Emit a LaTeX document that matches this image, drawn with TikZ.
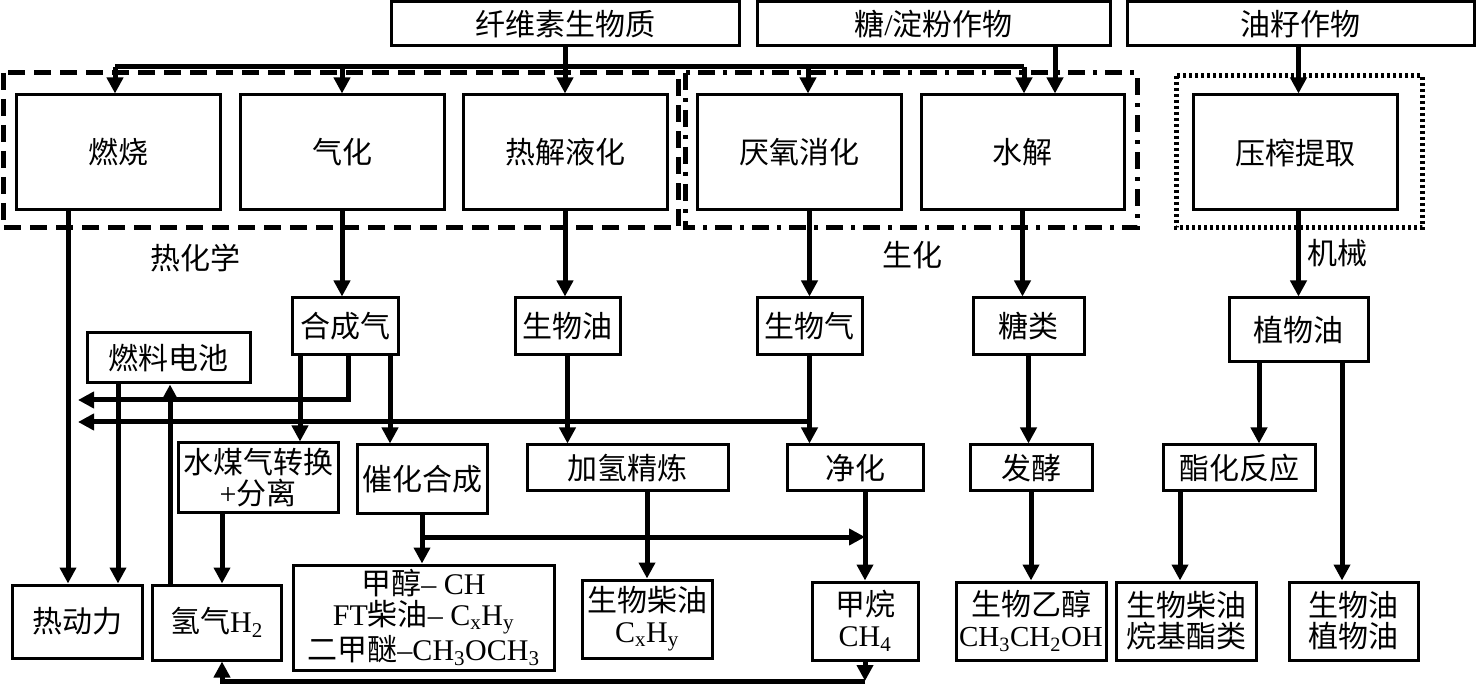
\documentclass[tikz,border=0pt]{standalone}
\usepackage{fontspec}
\setmainfont{Liberation Serif}
\newfontfamily\cjk{Noto Sans CJK SC}
\usetikzlibrary{arrows.meta}
\newcommand\lat[1]{{\rmfamily #1}}
\newcommand\mkbox[6]{\node[bx, minimum width={(#4-#2)*1pt}, minimum height={(#5-#3)*1pt}] (#1) at ({(#2+#4)/2},{(#3+#5)/2}) {#6};}
\begin{document}
\begin{tikzpicture}[x=1pt,y=-1pt,
  bx/.style={draw, line width=3pt, inner sep=0pt, align=center, font=\cjk\fontsize{30pt}{31pt}\selectfont},
  ln/.style={line width=5pt},
  arr/.style={line width=5pt, -{Triangle[length=16pt,width=16pt]}},
  lbl/.style={font=\cjk\fontsize{30pt}{32pt}\selectfont, inner sep=0pt},
  grp/.style={line width=5pt},
]
\fill[white] (0,0) rectangle (1476,684);
\useasboundingbox (0,0) rectangle (1476,684);

% sources
\mkbox{fiber}{391}{1.5}{739}{46}{纤维素生物质}
\mkbox{sugar}{757}{1.5}{1110}{46}{糖\lat{/}淀粉作物}
\mkbox{oilc}{1127}{1.5}{1474}{46}{油籽作物}

% processes
\mkbox{rs}{16}{95}{220}{210}{燃烧}
\mkbox{qh}{240}{95}{444}{210}{气化}
\mkbox{rj}{463}{95}{667}{210}{热解液化}
\mkbox{yy}{697}{95}{901}{210}{厌氧消化}
\mkbox{sj}{921}{95}{1124}{210}{水解}
\mkbox{yz}{1193}{95}{1397}{210}{压榨提取}

% group frames
\draw[grp, dash pattern=on 17pt off 9pt] (3,73) rectangle (678,228);
\draw[grp, dash pattern=on 17pt off 8pt on 4pt off 8pt] (685,73) rectangle (1137,228);
\draw[grp, dash pattern=on 3pt off 3pt] (1176,76) rectangle (1422,228);

\node[lbl] (lthermo) at (195,258) {热化学};
\node[lbl] (lbio) at (912,255) {生化};
\node[lbl] (lmech) at (1337,253) {机械};

% intermediates
\mkbox{syn}{292}{298}{398}{355}{合成气}
\mkbox{boil}{515}{298}{620}{355}{生物油}
\mkbox{bgas}{757}{298}{862}{355}{生物气}
\mkbox{tang}{973}{298}{1084}{355}{糖类}
\mkbox{veg}{1229}{298}{1368}{362}{植物油}
\mkbox{fc}{87}{333}{250}{383}{燃料电池}

% conversion steps
\mkbox{wgs}{178}{443}{338}{512}{水煤气转换\\\lat{+}分离}
\mkbox{cat}{357}{445}{487}{513}{催化合成}
\mkbox{hyd}{527}{445}{728}{491}{加氢精炼}
\mkbox{pur}{787}{445}{923}{491}{净化}
\mkbox{fer}{970}{445}{1092}{491}{发酵}
\mkbox{est}{1163}{445}{1315}{491}{酯化反应}

% products
\mkbox{heat}{12}{585}{142}{658}{热动力}
\mkbox{h2}{152}{585}{281}{660}{氢气\lat{H\textsubscript{2}}}
\mkbox{meth}{293}{565}{554}{670}{甲醇\lat{– CH}\\\lat{FT}柴油\lat{– C\textsubscript{x}H\textsubscript{y}}\\二甲醚\lat{–CH\textsubscript{3}OCH\textsubscript{3}}}
\mkbox{bd}{582}{580}{712}{658}{生物柴油\\\lat{C\textsubscript{x}H\textsubscript{y}}}
\mkbox{ch4}{812}{582}{918}{660}{甲烷\\\lat{CH\textsubscript{4}}}
\mkbox{eth}{956}{582}{1106}{660}{生物乙醇\\\lat{\fontsize{29pt}{31pt}\selectfont CH\textsubscript{3}CH\textsubscript{2}OH}}
\mkbox{fame}{1116}{582}{1256}{660}{生物柴油\\烷基酯类}
\mkbox{bvo}{1289}{582}{1418}{660}{生物油\\植物油}

% rails
\coordinate (hl) at (115,67);
\coordinate (hr) at (1024,67);
\coordinate (a4) at (808,67);
\coordinate (s1) at (1055,46);
\coordinate (xA) at (68,0);
\coordinate (xB) at (118,0);
\coordinate (xC) at (170,0);
\coordinate (xD) at (222,0);
\coordinate (xE) at (300,0);
\coordinate (xF) at (348,0);
\coordinate (xG) at (390,0);
\coordinate (xL) at (1259,0);
\coordinate (xM) at (1342,0);
\coordinate (xO) at (1180,0);
\coordinate (w1) at (78,400);
\coordinate (w2) at (78,422);
\coordinate (y537) at (0,537);
\coordinate (b1) at (865,681);

% top distribution
\draw[ln] (hl) -- (hr);
\draw[arr] (fiber.south) -- (rj.north);
\draw[arr] (hl) -- (hl |- rs.north);
\draw[arr] (qh.north |- hl) -- (qh.north);
\draw[arr] (a4) -- (a4 |- yy.north);
\draw[arr] (hr) -- (hr |- sj.north);
\draw[arr] (s1) -- (s1 |- sj.north);
\draw[arr] (veg.north |- oilc.south) -- (veg.north |- yz.north);

% level 1 -> 2
\draw[arr] (xA |- rs.south) -- (xA |- heat.north);
\draw[arr] (qh.south) -- (qh.south |- syn.north);
\draw[arr] (rj.south) -- (rj.south |- boil.north);
\draw[arr] (bgas.north |- yy.south) -- (bgas.north);
\draw[arr] (sj.south) -- (sj.south |- tang.north);
\draw[arr] (veg.north |- yz.south) -- (veg.north);

% fuel cell / hydrogen
\draw[arr] (xB |- fc.south) -- (xB |- heat.north);
\draw[arr] (xC |- h2.north) -- (xC |- fc.south);

% syngas
\draw[arr] (xE |- syn.south) -- (xE |- wgs.north);
\draw[arr] (xF |- syn.south) |- (w1);
\draw[arr] (xG |- syn.south) -- (xG |- cat.north);

% biogas
\draw[arr] (bgas.south) -- (bgas.south |- pur.north);
\draw[arr] (bgas.south |- w2) -- (w2);

% others
\draw[arr] (boil.south) -- (boil.south |- hyd.north);
\draw[arr] (tang.south) -- (tang.south |- fer.north);
\draw[arr] (fer.south) -- (fer.south |- eth.north);
\draw[arr] (xL |- veg.south) -- (xL |- est.north);
\draw[arr] (xM |- veg.south) -- (xM |- bvo.north);
\draw[arr] (xO |- est.south) -- (xO |- fame.north);
\draw[arr] (xD |- wgs.south) -- (xD |- h2.north);
\draw[arr] (cat.south) -- (cat.south |- meth.north);
\draw[arr] (cat.south |- y537) -- (ch4.north |- y537);
\draw[arr] (bd.north |- hyd.south) -- (bd.north);
\draw[arr] (ch4.north |- pur.south) -- (ch4.north);

% methane loop back to hydrogen
\draw[arr] (ch4.south) -- (b1);
\draw[arr] (b1) -| (xD |- h2.south);
\end{tikzpicture}
\end{document}
